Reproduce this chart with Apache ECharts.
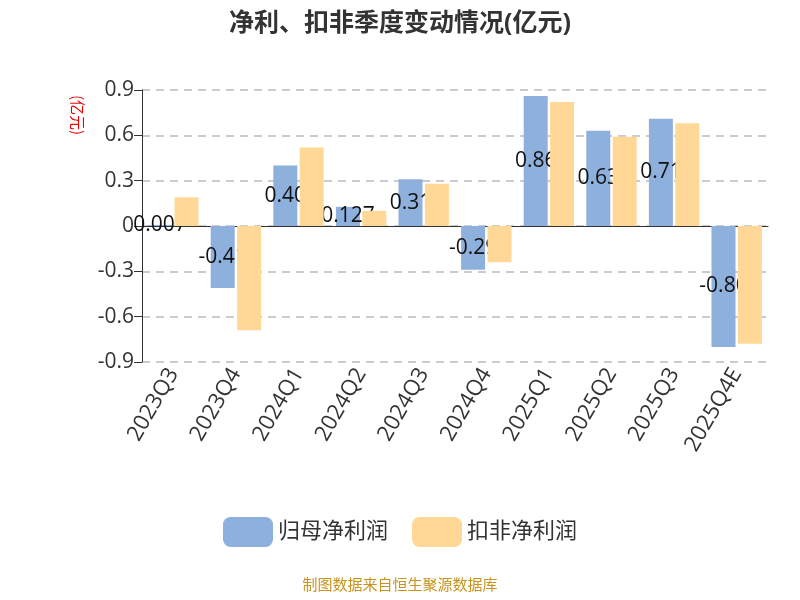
<!DOCTYPE html>
<html>
<head>
<meta charset="utf-8">
<script src="https://cdn.jsdelivr.net/npm/echarts@6/dist/echarts.min.js"></script>
<style>html,body{margin:0;padding:0;}#main{width:800px;height:600px;}</style>
</head>
<body>
<div id="main"></div>
<script>
var categories = ['2023Q3', '2023Q4', '2024Q1', '2024Q2', '2024Q3', '2024Q4', '2025Q1', '2025Q2', '2025Q3', '2025Q4E'];
var netProfit = [0.007, -0.41, 0.40, 0.127, 0.31, -0.29, 0.86, 0.63, 0.71, -0.80];
var deductedProfit = [0.19, -0.69, 0.52, 0.10, 0.28, -0.24, 0.82, 0.59, 0.68, -0.78];
var yTicks = [-0.9, -0.6, -0.3, 0, 0.3, 0.6, 0.9];

var myChart = echarts.init(document.getElementById('main'));
var option = {
  textStyle: { fontFamily: '"Open Sans", "Noto Sans CJK SC", sans-serif' },
  title: {
    text: '净利、扣非季度变动情况(亿元)',
    left: 'center',
    top: 6,
    textStyle: { fontSize: 25, fontWeight: 'bold', color: '#333' }
  },
  legend: {
    bottom: 48,
    itemWidth: 50,
    itemHeight: 30,
    itemGap: 24,
    textStyle: { fontSize: 22, color: '#333' },
    data: ['归母净利润', '扣非净利润']
  },
  graphic: [{
    type: 'text',
    left: 'center',
    bottom: 8,
    style: { text: '制图数据来自恒生聚源数据库', fill: '#c8941e', font: '15px "Noto Sans CJK SC", sans-serif' }
  }, {
    type: 'text',
    left: 70,
    top: 95,
    rotation: -Math.PI / 2,
    style: { text: '(亿元)', fill: '#e00', font: '15px "Noto Sans CJK SC", sans-serif' }
  }],
  grid: { left: 142, right: 32, top: 90, bottom: 238 },
  xAxis: {
    type: 'category',
    data: categories,
    axisLine: { onZero: true, lineStyle: { color: '#333' } },
    axisTick: { length: 8 },
    axisLabel: { rotate: 60, fontSize: 22, color: '#333', interval: 0 }
  },
  yAxis: {
    type: 'value',
    min: yTicks[0],
    max: yTicks[yTicks.length - 1],
    interval: 0.3,
    axisLine: { show: true, lineStyle: { color: '#333' } },
    axisTick: { show: true, length: 8 },
    axisLabel: {
      fontSize: 21, color: '#333',
      formatter: function (v) { return v === 0 ? '0' : v.toFixed(1); }
    },
    splitLine: { lineStyle: { type: [8, 6], color: '#bbb', width: 1.5 } }
  },
  series: [{
    name: '归母净利润',
    type: 'bar',
    barWidth: 24,
    barGap: '10%',
    itemStyle: { color: '#8eb0dc' },
    label: {
      show: true,
      position: 'inside',
      fontSize: 21,
      color: '#111',
      formatter: function (p) {
        var v = p.value;
        return Math.abs(v) < 0.01 || Math.abs(v * 100 - Math.round(v * 100)) > 0.01 ? v.toFixed(3) : v.toFixed(2);
      }
    },
    data: netProfit
  }, {
    name: '扣非净利润',
    type: 'bar',
    barWidth: 24,
    itemStyle: { color: '#ffd898' },
    z: 3,
    data: deductedProfit
  }]
};
myChart.setOption(option);
window.addEventListener('resize', myChart.resize);
</script>
</body>
</html>
